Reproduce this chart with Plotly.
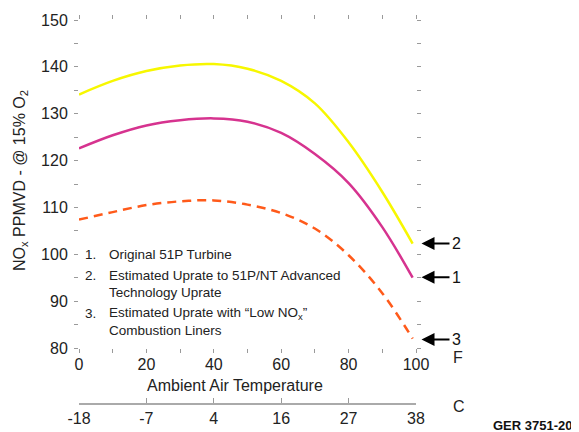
import plotly.graph_objects as go

temp_f = [0, 10, 20, 30, 40, 50, 60, 70, 80, 90, 99]
uprate_nt = [134.1, 137.0, 139.1, 140.3, 140.6, 139.6, 137.0, 132.2, 123.9, 113.3, 102.3]   # curve 2
original = [122.6, 125.4, 127.5, 128.6, 129.0, 128.3, 125.9, 121.4, 115.2, 105.8, 95.0]      # curve 1
low_nox = [107.4, 109.0, 110.5, 111.3, 111.5, 110.6, 108.8, 105.5, 99.8, 91.7, 82.0]         # curve 3

f_ticks = list(range(0, 101, 10))
f_labels = [str(v) if v % 20 == 0 else "" for v in f_ticks]
c_ticks = [0, 20, 40, 60, 80, 100]
c_labels = ["-18", "-7", "4", "16", "27", "38"]
y_ticks = list(range(80, 151, 5))
y_labels = [str(v) if v % 10 == 0 else "" for v in y_ticks]

legend_items = [
    ("1.", ["Original 51P Turbine"]),
    ("2.", ["Estimated Uprate to 51P/NT Advanced", "Technology Uprate"]),
    ("3.", ["Estimated Uprate with “Low NO<sub>x</sub>”", "Combustion Liners"]),
]
legend_line_px = [254, 275, 292, 313, 330]
arrow_labels = [("2", 102.3), ("1", 95.1), ("3", 81.8)]

FONT = "Liberation Sans, Arial, sans-serif"
TICKC = "#9a9a9a"

fig = go.Figure()
fig.add_trace(go.Scatter(x=temp_f, y=uprate_nt, mode="lines", line=dict(color="#F7F700", width=2.5, shape="spline"), showlegend=False))
fig.add_trace(go.Scatter(x=temp_f, y=original, mode="lines", line=dict(color="#D6338F", width=2.5, shape="spline"), showlegend=False))
fig.add_trace(go.Scatter(x=temp_f, y=low_nox, mode="lines", line=dict(color="#FF5A1A", width=2.5, shape="spline", dash="9px,6px"), showlegend=False))
# invisible trace to hold the Celsius axis
fig.add_trace(go.Scatter(x=[0, 100], y=[80, 80], xaxis="x2", yaxis="y", mode="lines", line=dict(width=0), opacity=0, hoverinfo="skip", showlegend=False))

OFF = 8  # default page body margin
W, H = 579 - OFF, 432 - OFF
ml, mt = 79 - OFF, 20 - OFF
mr = W - (416 - OFF)
mb = H - (404 - OFF)
plot_h = H - mt - mb
dom0 = (404 - 348) / plot_h

fig.update_layout(
    width=W, height=H,
    margin=dict(l=ml, r=mr, t=mt, b=mb),
    paper_bgcolor="white", plot_bgcolor="white",
    font=dict(family=FONT, size=16, color="#222"),
    xaxis=dict(range=[0, 100], tickvals=f_ticks, ticktext=f_labels, ticks="outside", ticklen=4,
               tickcolor=TICKC, mirror="ticks", showline=False, showgrid=False, zeroline=False,
               anchor="y", tickfont=dict(size=16), automargin=False, ticklabelstandoff=-2),
    yaxis=dict(range=[80, 150], domain=[dom0, 1], tickvals=y_ticks, ticktext=y_labels, ticks="outside",
               ticklen=4, tickcolor=TICKC, mirror="ticks", showline=False, showgrid=False, zeroline=False,
               tickfont=dict(size=16), automargin=False, ticklabelstandoff=3),
    xaxis2=dict(range=[0, 100], overlaying="x", anchor="free", position=0, side="bottom",
                tickvals=c_ticks, ticktext=c_labels, ticks="inside", ticklen=5, tickcolor=TICKC,
                showline=True, linecolor="#aaaaaa", linewidth=1.5, showgrid=False, zeroline=False,
                tickfont=dict(size=16), automargin=False),
)

def px_x(px):
    return (px - OFF - ml) / (W - ml - mr)

def px_y(py):
    return (H - mb - (py - OFF)) / plot_h

# y-axis title
fig.add_annotation(text="NO<sub>x</sub> PPMVD - @ 15% O<sub>2</sub>", textangle=-90, xref="paper", yref="paper",
                   x=px_x(20), y=px_y(181), showarrow=False, xanchor="center", yanchor="middle", font=dict(size=16))
# x-axis title
fig.add_annotation(text="Ambient Air Temperature", xref="paper", yref="paper", x=px_x(235), y=px_y(385),
                   showarrow=False, xanchor="center", yanchor="middle", font=dict(size=16))
# unit labels
fig.add_annotation(text="F", xref="paper", yref="paper", x=px_x(451), y=px_y(357), showarrow=False,
                   xanchor="left", yanchor="middle", font=dict(size=16))
fig.add_annotation(text="C", xref="paper", yref="paper", x=px_x(451), y=px_y(406), showarrow=False,
                   xanchor="left", yanchor="middle", font=dict(size=16))
# source
fig.add_annotation(text="<b>GER 3751-20</b>", xref="paper", yref="paper", x=px_x(575), y=px_y(425),
                   showarrow=False, xanchor="right", yanchor="middle", font=dict(size=13, color="#111"))

# legend text block
k = 0
for num, lines in legend_items:
    fig.add_annotation(text=num, xref="paper", yref="paper", x=px_x(83), y=px_y(legend_line_px[k]), showarrow=False,
                       xanchor="left", yanchor="middle", font=dict(size=13.5))
    for ln in lines:
        fig.add_annotation(text=ln, xref="paper", yref="paper", x=px_x(107), y=px_y(legend_line_px[k]), showarrow=False,
                           xanchor="left", yanchor="middle", font=dict(size=13.5))
        k += 1

# arrows
for lab, yv in arrow_labels:
    fig.add_annotation(text=lab, x=px_x(421.5), y=yv, xref="paper", yref="y", ax=28, ay=0, showarrow=True,
                       arrowhead=2, arrowsize=1.3, arrowwidth=2, arrowcolor="black", xanchor="left",
                       font=dict(size=16, color="#111"))

fig.write_html("out.html")
